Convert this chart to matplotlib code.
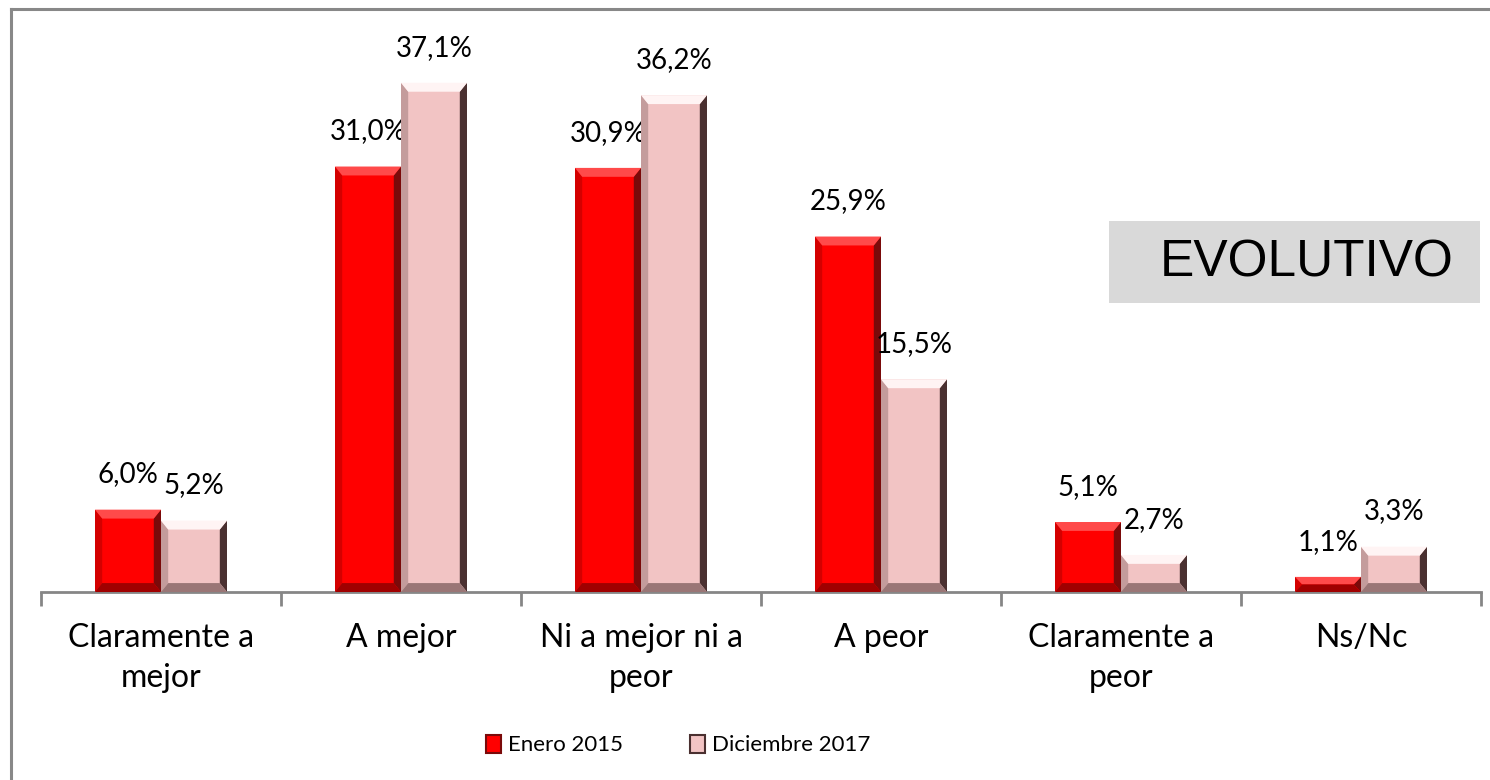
import matplotlib.pyplot as plt
from matplotlib.patches import Polygon, Rectangle
from matplotlib.lines import Line2D
import numpy as np

categories = ["Claramente a\nmejor", "A mejor", "Ni a mejor ni a\npeor", "A peor",
              "Claramente a\npeor", "Ns/Nc"]
series_names = ["Enero 2015", "Diciembre 2017"]
enero_2015 = [6.0, 31.0, 30.9, 25.9, 5.1, 1.1]
diciembre_2017 = [5.2, 37.1, 36.2, 15.5, 2.7, 3.3]

FONT = ["Lato", "DejaVu Sans"]
plt.rcParams["font.family"] = FONT

# fill, left edge, right edge, top highlight, bottom edge
STYLES = [
    ("#FF0000", "#D40000", "#7A0A0A", "#FF4A4A", "#A00000"),
    ("#F2C4C4", "#C49C9C", "#4A3030", "#FFF4F4", "#9A7676"),
]


def bevel(ax, rect, style, dx=0.03, dy=0.65):
    fill, left, right, top, bottom = style
    x0, w, h = rect.get_x(), rect.get_width(), rect.get_height()
    x1 = x0 + w
    d = min(dy, h / 2)
    k = min(dx, w / 2)
    ax.add_patch(Polygon([(x0, 0), (x0 + k, d), (x0 + k, h - d), (x0, h)],
                         closed=True, facecolor=left, edgecolor="none", zorder=3))
    ax.add_patch(Polygon([(x1, 0), (x1 - k, d), (x1 - k, h - d), (x1, h)],
                         closed=True, facecolor=right, edgecolor="none", zorder=3))
    ax.add_patch(Polygon([(x0, h), (x0 + k, h - d), (x1 - k, h - d), (x1, h)],
                         closed=True, facecolor=top, edgecolor="none", zorder=3))
    ax.add_patch(Polygon([(x0, 0), (x0 + k, d), (x1 - k, d), (x1, 0)],
                         closed=True, facecolor=bottom, edgecolor="none", zorder=3))


fig = plt.figure(figsize=(14.9, 7.8), dpi=100)
ax = fig.add_axes([41 / 1490, 1 - 592 / 780, 1440 / 1490, 549 / 780])

x = np.arange(len(categories), dtype=float)
width = 0.275
handles = []
for j, (vals, st) in enumerate(zip([enero_2015, diciembre_2017], STYLES)):
    offs = -width / 2 if j == 0 else width / 2
    bars = ax.bar(x + offs, vals, width, color=st[0], edgecolor="none", zorder=2)
    for b, v in zip(bars, vals):
        bevel(ax, b, st)
        ax.annotate(f"{v:.1f}%".replace(".", ","), (b.get_x() + b.get_width() / 2, v),
                    xytext=(0, 16), textcoords="offset points", ha="center", va="bottom",
                    fontsize=20, color="black")
    handles.append(Rectangle((0, 0), 1, 1, facecolor=st[0], edgecolor=st[2], linewidth=1.5))

ax.set_xlim(-0.5, len(categories) - 0.5)
ax.set_ylim(0, 40)
for s in ("top", "right", "left"):
    ax.spines[s].set_visible(False)
ax.spines["bottom"].set_color("#868686")
ax.spines["bottom"].set_linewidth(2)
ax.set_yticks([])
ax.set_xticks(x)
ax.set_xticklabels(categories, fontsize=23, linespacing=1.45)
ax.tick_params(axis="x", which="major", length=0, pad=22)
ax.set_xticks(np.arange(-0.5, len(categories), 1.0), minor=True)
ax.tick_params(axis="x", which="minor", length=10, width=2, color="#868686")

fig.add_artist(Rectangle((1109 / 1490, 1 - 303 / 780), 371 / 1490, 82 / 780,
                         transform=fig.transFigure, facecolor="#D9D9D9", edgecolor="none"))
fig.text(1160 / 1490, 1 - 263 / 780, "EVOLUTIVO", fontsize=37, family="Liberation Sans",
         ha="left", va="center", zorder=5)

fig.legend(handles, series_names, loc="center", bbox_to_anchor=(678 / 1490, 1 - 745 / 780),
           ncol=2, frameon=False, fontsize=16, handlelength=0.7, handleheight=0.9,
           handletextpad=0.3, columnspacing=3.0)

fig.add_artist(Line2D([11 / 1490, 11 / 1490], [0, 1 - 9 / 780], transform=fig.transFigure,
                      color="#888888", linewidth=2.2))
fig.add_artist(Line2D([11 / 1490, 1], [1 - 9 / 780, 1 - 9 / 780], transform=fig.transFigure,
                      color="#888888", linewidth=2.2))

fig.savefig("out.png", dpi=100)
